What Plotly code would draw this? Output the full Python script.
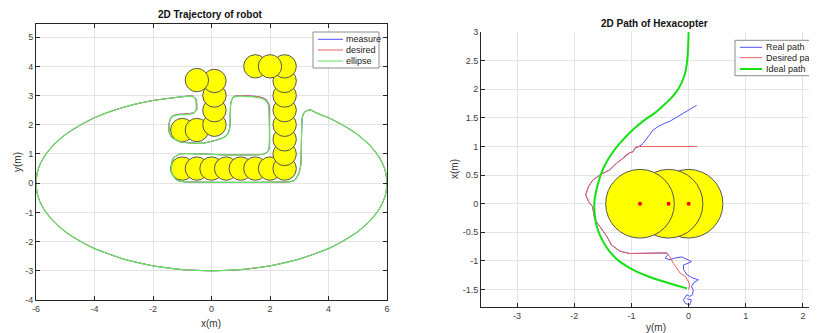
import plotly.graph_objects as go

# ---------------- data: left chart (2D Trajectory of robot) ----------------
ell_upper_left_x = [-6.0, -5.95, -5.85, -5.7, -5.4, -5.0, -4.5, -4.0, -3.5, -3.0, -2.5, -2.0, -1.5, -1.0]
ell_upper_left_y = [0.0, 0.39, 0.67, 0.94, 1.31, 1.66, 1.98, 2.24, 2.44, 2.60, 2.73, 2.83, 2.90, 2.96]

obst_green_x = [-0.74, -0.62, -0.54, -0.53, -0.62, -0.9, -1.19, -1.36, -1.44, -1.44, -1.36, -1.08,
                -0.62, -0.28, 0.18, 0.46, 0.57, 0.63, 0.66, 0.75, 0.97, 1.6, 1.83, 1.94, 1.97, 1.97,
                1.92, 1.77, 0.46, -1.08, -1.31, -1.36, -1.36, -1.19, -0.96, 2.68, 2.84, 2.97, 3.05,
                3.08, 3.10, 3.14, 3.2, 3.37]
obst_green_y = [2.98, 2.96, 2.85, 2.51, 2.39, 2.35, 2.33, 2.26, 2.05, 1.76, 1.57, 1.42,
                1.37, 1.37, 1.48, 1.59, 1.71, 1.94, 2.74, 2.94, 2.98, 2.93, 2.85, 2.68, 2.22, 1.20,
                1.08, 0.99, 0.97, 1.0, 0.85, 0.68, 0.34, 0.11, 0.05, 0.05, 0.1, 0.3, 0.6,
                1.71, 2.22, 2.36, 2.45, 2.51]

obst_desired_x = [-0.74, -0.61, -0.52, -0.51, -0.6, -0.9, -1.19, -1.37, -1.45, -1.45, -1.36, -1.08,
                  -0.62, -0.28, 0.18, 0.46, 0.57, 0.63, 0.66, 0.75, 0.97, 1.6, 1.85, 1.96, 1.98, 1.97,
                  1.92, 1.77, 0.46, -1.08, -1.31, -1.36, -1.36, -1.19, -0.96, 2.68, 2.84, 2.97, 3.05,
                  3.08, 3.10, 3.14, 3.2, 3.37]
obst_desired_y = [2.99, 2.97, 2.85, 2.5, 2.41, 2.37, 2.35, 2.27, 2.05, 1.76, 1.57, 1.42,
                  1.37, 1.37, 1.48, 1.59, 1.71, 1.94, 2.75, 2.96, 3.0, 2.96, 2.88, 2.7, 2.22, 1.20,
                  1.08, 0.99, 0.97, 1.0, 0.85, 0.68, 0.34, 0.11, 0.05, 0.05, 0.1, 0.3, 0.6,
                  1.71, 2.22, 2.36, 2.45, 2.51]

ell_upper_right_x = [3.6, 4.0, 4.5, 5.0, 5.4, 5.7, 5.85, 5.95, 6.0]
ell_upper_right_y = [2.40, 2.24, 1.98, 1.66, 1.31, 0.94, 0.67, 0.39, 0.0]

ell_lower_x = [5.95, 5.85, 5.7, 5.4, 5.0, 4.5, 4.0, 3.0, 2.0, 1.0, 0.0, -1.0, -2.0, -3.0, -4.0,
               -4.5, -5.0, -5.4, -5.7, -5.85, -5.95, -6.0]
ell_lower_y = [-0.39, -0.67, -0.94, -1.31, -1.66, -1.98, -2.24, -2.60, -2.83, -2.96, -3.0, -2.96,
               -2.83, -2.60, -2.24, -1.98, -1.66, -1.31, -0.94, -0.67, -0.39, 0.0]

obstacle_cx = [-1, -0.5, 0, 0.5, 1, 1.5, 2, 2.5,
               2.5, 2.5, 2.5, 2.5, 2.5, 2.5, 2.5,
               1.5, 2.0,
               -1.0, -0.5, 0.1, 0.1, 0.1, 0.1, -0.5]
obstacle_cy = [0.5, 0.5, 0.5, 0.5, 0.5, 0.5, 0.5, 0.5,
               1.0, 1.5, 2.0, 2.5, 3.0, 3.5, 4.0,
               4.0, 4.0,
               1.82, 1.82, 2.0, 2.5, 3.0, 3.5, 3.53]
obstacle_r = 0.4

left_xticks = [-6, -4, -2, 0, 2, 4, 6]
left_xticklabels = ["-6", "-4", "-2", "0", "2", "4", "6"]
left_yticks = [-4, -3, -2, -1, 0, 1, 2, 3, 4, 5]
left_yticklabels = ["-4", "-3", "-2", "-1", "0", "1", "2", "3", "4", "5"]

# ---------------- data: right chart (2D Path of Hexacopter) ----------------
real_y = [0.14, -0.33, -0.41, -0.53, -0.62, -0.68, -0.79, -0.85, -0.91, -0.94, -0.97, -1.03, -1.14,
          -1.26, -1.38, -1.52, -1.67, -1.75, -1.80, -1.75, -1.68, -1.66, -1.64, -1.55, -1.43, -1.35,
          -1.20, -1.03, -0.7, -0.38, -0.36, -0.41, -0.33, -0.24, -0.12, -0.03, 0.05, -0.01, -0.09,
          -0.09, -0.03, 0.02, 0.08, 0.17, 0.09, 0.05, 0.08, 0.07, 0.02, -0.03, -0.05, -0.09, -0.06,
          0.02, 0.05, -0.03]
real_x = [1.72, 1.44, 1.41, 1.35, 1.29, 1.21, 1.06, 1.01, 0.99, 0.97, 0.91, 0.89, 0.80,
          0.71, 0.59, 0.52, 0.42, 0.30, 0.16, 0.04, -0.05, -0.18, -0.28, -0.40, -0.57, -0.72,
          -0.83, -0.87, -0.87, -0.86, -0.89, -0.95, -0.98, -0.95, -0.93, -0.97, -1.01, -1.04, -1.07,
          -1.15, -1.24, -1.27, -1.30, -1.33, -1.38, -1.45, -1.50, -1.59, -1.62, -1.59, -1.62, -1.68, -1.74,
          -1.77, -1.68, -1.66]

desired_y = [0.15, -0.91, -0.94, -0.97, -1.03, -1.1, -1.14, -1.26, -1.38, -1.52, -1.67, -1.75, -1.80,
             -1.75, -1.68, -1.66, -1.64, -1.55, -1.50, -1.43, -1.35, -1.20, -1.03, -0.7, -0.38, -0.33,
             -0.30, -0.27, -0.21, -0.15, -0.06, -0.02, 0.02, 0.01, 0.0]
desired_x = [1.0, 1.0, 0.97, 0.91, 0.89, 0.85, 0.80, 0.71, 0.59, 0.52, 0.42, 0.30, 0.16,
             0.04, -0.05, -0.18, -0.28, -0.40, -0.47, -0.57, -0.72, -0.83, -0.87, -0.87, -0.86, -0.92,
             -0.98, -1.04, -1.12, -1.21, -1.27, -1.33, -1.42, -1.47, -1.5]

ideal_y = [0.0, -0.01, -0.03, -0.07, -0.13, -0.21, -0.33, -0.46, -0.6, -0.76, -0.92, -1.06, -1.18,
           -1.29, -1.38, -1.46, -1.52, -1.57, -1.61, -1.64, -1.65, -1.64, -1.61, -1.55, -1.46,
           -1.36, -1.23, -1.07, -0.88, -0.68, -0.47, -0.24, -0.03]
ideal_x = [3.0, 2.7, 2.45, 2.25, 2.1, 1.96, 1.82, 1.7, 1.58, 1.47, 1.34, 1.21, 1.08,
           0.95, 0.82, 0.68, 0.55, 0.4, 0.25, 0.1, -0.05, -0.2, -0.38, -0.55, -0.72,
           -0.86, -0.99, -1.1, -1.2, -1.28, -1.35, -1.42, -1.48]

copter_cy = [0.0, -0.35, -0.85]
copter_cx = [0.0, 0.0, 0.0]
copter_r = 0.6

right_xticks = [-3, -2, -1, 0, 1, 2]
right_xticklabels = ["-3", "-2", "-1", "0", "1", "2"]
right_yticks = [-1.5, -1, -0.5, 0, 0.5, 1, 1.5, 2, 2.5, 3]
right_yticklabels = ["-1.5", "-1", "-0.5", "0", "0.5", "1", "1.5", "2", "2.5", "3"]

# ---------------- figure ----------------
# the page body has an 8px margin, so the figure is laid out 8px smaller
OFF = 8
W, H = 817 - OFF, 333 - OFF
FONT = "Liberation Sans, Arial, Helvetica, sans-serif"
BLUE = "rgb(80,80,255)"
RED = "rgb(238,95,95)"
GREEN_L = "rgb(100,228,100)"
GREEN_R = "rgb(20,225,20)"


def px(x):
    return (x - OFF) / W


def py(y):
    return 1 - (y - OFF) / H


fig = go.Figure()

meas_x = ell_upper_left_x + obst_desired_x + ell_upper_right_x + ell_lower_x
meas_y = ell_upper_left_y + obst_desired_y + ell_upper_right_y + ell_lower_y
green_x = ell_upper_left_x + obst_green_x + ell_upper_right_x + ell_lower_x
green_y = ell_upper_left_y + obst_green_y + ell_upper_right_y + ell_lower_y

fig.add_trace(go.Scatter(x=meas_x, y=meas_y, mode="lines", name="measure",
                         line=dict(color=BLUE, width=1, shape="spline", smoothing=0.5),
                         xaxis="x", yaxis="y", showlegend=False))
fig.add_trace(go.Scatter(x=meas_x, y=meas_y, mode="lines", name="desired",
                         line=dict(color=RED, width=1, shape="spline", smoothing=0.5),
                         xaxis="x", yaxis="y", showlegend=False))
fig.add_trace(go.Scatter(x=green_x, y=green_y, mode="lines", name="ellipse",
                         line=dict(color=GREEN_L, width=1.2, shape="spline", smoothing=0.5),
                         xaxis="x", yaxis="y", showlegend=False))

fig.add_trace(go.Scatter(x=real_y, y=real_x, mode="lines", name="Real path",
                         line=dict(color=BLUE, width=1), xaxis="x2", yaxis="y2", showlegend=False))
fig.add_trace(go.Scatter(x=desired_y, y=desired_x, mode="lines", name="Desired path",
                         line=dict(color=RED, width=1), xaxis="x2", yaxis="y2", showlegend=False))
fig.add_trace(go.Scatter(x=ideal_y, y=ideal_x, mode="lines", name="Ideal path",
                         line=dict(color=GREEN_R, width=2, shape="spline", smoothing=0.8),
                         xaxis="x2", yaxis="y2", showlegend=False))
fig.add_trace(go.Scatter(x=copter_cy, y=copter_cx, mode="markers",
                         marker=dict(color="red", size=4), xaxis="x2", yaxis="y2", showlegend=False))

shapes = []
for cx, cy in zip(obstacle_cx, obstacle_cy):
    shapes.append(dict(type="circle", xref="x", yref="y",
                       x0=cx - obstacle_r, x1=cx + obstacle_r, y0=cy - obstacle_r, y1=cy + obstacle_r,
                       fillcolor="#ffff00", line=dict(color="#555555", width=1), layer="between"))
for cx, cy in zip(copter_cy, copter_cx):
    shapes.append(dict(type="circle", xref="x2", yref="y2",
                       x0=cx - copter_r, x1=cx + copter_r, y0=cy - copter_r, y1=cy + copter_r,
                       fillcolor="#ffff00", line=dict(color="#555555", width=1), layer="between"))

annotations = []


# manual legends (MATLAB-style compact boxes)
def legend(box, rows, names, colors, widths, line_x, text_x, fsize):
    shapes.append(dict(type="rect", xref="paper", yref="paper",
                       x0=px(box[0]), x1=px(box[1]), y0=py(box[3]), y1=py(box[2]),
                       fillcolor="white", line=dict(color="#8c8c8c", width=1), layer="above"))
    for r, n, c, w in zip(rows, names, colors, widths):
        shapes.append(dict(type="line", xref="paper", yref="paper",
                           x0=px(line_x[0]), x1=px(line_x[1]), y0=py(r), y1=py(r),
                           line=dict(color=c, width=w), layer="above"))
        annotations.append(dict(text=n, xref="paper", yref="paper", x=px(text_x), y=py(r),
                                xanchor="left", yanchor="middle", showarrow=False,
                                font=dict(size=fsize, color="#222222", family=FONT)))


legend((313, 379, 32, 68), [39.3, 50, 61], ["measure", "desired", "ellipse"],
       [BLUE, RED, GREEN_L], [1, 1, 1], (318, 343), 343.5, 9)
legend((735, 830, 40.3, 75.7), [47.3, 57.7, 69], ["Real path", "Desired path", "Ideal path"],
       [BLUE, RED, GREEN_R], [1, 1, 2], (740, 762), 763.5, 9)

# titles and axis labels
for t, x, y in [("<b>2D Trajectory of robot</b>", 211, 15), ("<b>2D Path of Hexacopter</b>", 654, 24)]:
    annotations.append(dict(text=t, x=px(x), y=py(y), xref="paper", yref="paper",
                            xanchor="center", yanchor="middle", showarrow=False,
                            font=dict(size=10, color="#111111", family=FONT)))
labels = [("x(m)", 211, 323, 0), ("y(m)", 17, 162, -90), ("y(m)", 656, 327, 0), ("x(m)", 455, 169, -90)]
for t, x, y, ang in labels:
    annotations.append(dict(text=t, x=px(x), y=py(y), xref="paper", yref="paper", textangle=ang,
                            xanchor="center", yanchor="middle", showarrow=False,
                            font=dict(size=10, color="#333333", family=FONT)))

axis_common = dict(showgrid=True, gridcolor="#e3e3e3", gridwidth=1, zeroline=False,
                   showline=True, linecolor="#262626", linewidth=1, ticks="inside", ticklen=4,
                   tickcolor="#262626", tickfont=dict(size=9, color="#404040", family=FONT))

fig.update_layout(
    width=W, height=H,
    margin=dict(l=0, r=0, t=0, b=0, autoexpand=False),
    paper_bgcolor="white", plot_bgcolor="white",
    font=dict(family=FONT),
    showlegend=False,
    xaxis=dict(domain=[px(36), px(387)], range=[-6, 6], tickvals=left_xticks,
               ticktext=left_xticklabels, mirror="ticks", anchor="y", **axis_common),
    yaxis=dict(domain=[py(300), py(24)], range=[-4, 5.45], tickvals=left_yticks,
               ticktext=left_yticklabels, mirror="ticks", anchor="x", **axis_common),
    xaxis2=dict(domain=[px(481), 1.0], range=[-3.63, 2.245], tickvals=right_xticks,
                ticktext=right_xticklabels, anchor="y2", **axis_common),
    yaxis2=dict(domain=[py(306.7), py(32.1)], range=[-1.8, 3.0], tickvals=right_yticks,
                ticktext=right_yticklabels, anchor="x2", **axis_common),
    shapes=shapes,
    annotations=annotations,
)

fig.write_html("out.html")
